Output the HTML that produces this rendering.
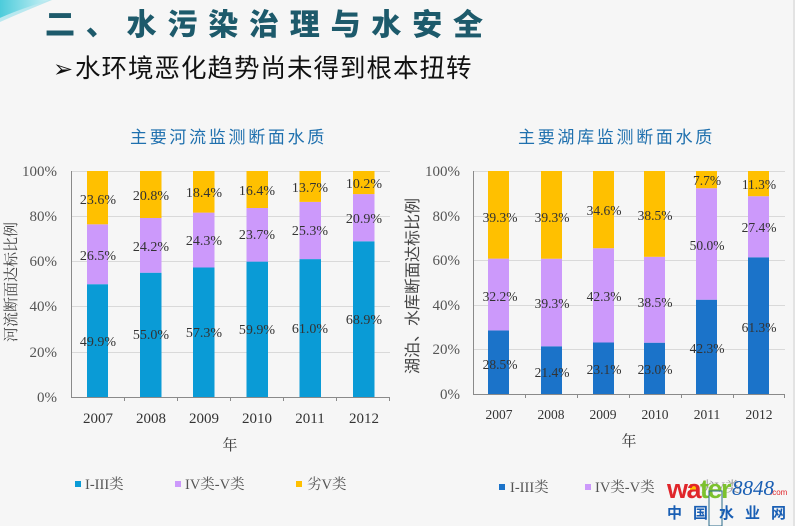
<!DOCTYPE html>
<html>
<head>
<meta charset="utf-8">
<style>
html,body{margin:0;padding:0;background:#f6f6f6;}
body{width:795px;height:526px;position:relative;overflow:hidden;}
svg{position:absolute;left:0;top:0;}
.serif{font-family:"Liberation Serif","Noto Serif CJK SC",serif;}
.sans{font-family:"Liberation Sans","Noto Sans CJK SC",sans-serif;}
</style>
</head>
<body>
<svg width="795" height="526" viewBox="0 0 795 526" xmlns="http://www.w3.org/2000/svg">
  <defs>
    <linearGradient id="sw" x1="0" y1="0" x2="1" y2="0">
      <stop offset="0" stop-color="#2ec4d6"/>
      <stop offset="1" stop-color="#bfeef4"/>
    </linearGradient>
  </defs>
  <rect x="0" y="0" width="795" height="526" fill="#f6f6f6"/>
  <path d="M0,0 L48,0 C35,5 18,10 0,18 Z" fill="url(#sw)" opacity="0.85"/>
  <path d="M0,18 C15,11 30,6 48,0 L52,0 C35,7 18,14 0,22 Z" fill="#9fe3ec" opacity="0.7"/>
  <line x1="794" y1="0" x2="794" y2="526" stroke="#d0d0d0" stroke-width="1"/>

  <!-- Titles -->
  <text x="45" y="35" class="sans" font-size="30" font-weight="900" fill="#1d5a6b" letter-spacing="10.8">二、水污染治理与水安全</text>
  <text x="53" y="77" font-family="DejaVu Sans,sans-serif" font-size="24" font-weight="bold" fill="#111">➢</text>
  <text x="75" y="77" class="sans" font-size="25.5" fill="#111" letter-spacing="1">水环境恶化趋势尚未得到根本扭转</text>

  <text x="130" y="143" class="sans" font-size="17" fill="#1f70ae" letter-spacing="2.7">主要河流监测断面水质</text>
  <text x="518" y="143" class="sans" font-size="17" fill="#1f70ae" letter-spacing="2.7">主要湖库监测断面水质</text>

  <!-- ============ LEFT CHART ============ -->
  <g stroke="#d9d9d9" stroke-width="1">
    <line x1="71" y1="171.5" x2="390" y2="171.5"/>
    <line x1="71" y1="216.5" x2="390" y2="216.5"/>
    <line x1="71" y1="261.5" x2="390" y2="261.5"/>
    <line x1="71" y1="306.5" x2="390" y2="306.5"/>
    <line x1="71" y1="352.5" x2="390" y2="352.5"/>
  </g>
  <g class="serif" font-size="15" fill="#555" text-anchor="end">
    <text x="57" y="176">100%</text>
    <text x="57" y="221">80%</text>
    <text x="57" y="266">60%</text>
    <text x="57" y="311">40%</text>
    <text x="57" y="357">20%</text>
    <text x="57" y="402">0%</text>
  </g>
  <g>
    <rect x="87" y="284.2" width="21" height="112.8" fill="#0a9bd6"/>
    <rect x="87" y="224.3" width="21" height="59.9" fill="#cc99fb"/>
    <rect x="87" y="171" width="21" height="53.3" fill="#ffc000"/>

    <rect x="140" y="272.7" width="21.5" height="124.3" fill="#0a9bd6"/>
    <rect x="140" y="218" width="21.5" height="54.7" fill="#cc99fb"/>
    <rect x="140" y="171" width="21.5" height="47" fill="#ffc000"/>

    <rect x="193" y="267.5" width="21.5" height="129.5" fill="#0a9bd6"/>
    <rect x="193" y="212.6" width="21.5" height="54.9" fill="#cc99fb"/>
    <rect x="193" y="171" width="21.5" height="41.6" fill="#ffc000"/>

    <rect x="246.5" y="261.6" width="21.5" height="135.4" fill="#0a9bd6"/>
    <rect x="246.5" y="208" width="21.5" height="53.6" fill="#cc99fb"/>
    <rect x="246.5" y="171" width="21.5" height="37" fill="#ffc000"/>

    <rect x="299.5" y="259.1" width="21.5" height="137.9" fill="#0a9bd6"/>
    <rect x="299.5" y="201.9" width="21.5" height="57.2" fill="#cc99fb"/>
    <rect x="299.5" y="171" width="21.5" height="30.9" fill="#ffc000"/>

    <rect x="353" y="241.3" width="21.5" height="155.7" fill="#0a9bd6"/>
    <rect x="353" y="194.1" width="21.5" height="47.2" fill="#cc99fb"/>
    <rect x="353" y="171" width="21.5" height="23.1" fill="#ffc000"/>
  </g>
  <line x1="71.5" y1="171" x2="71.5" y2="397" stroke="#8a8a8a" stroke-width="1"/>
  <line x1="71" y1="397.5" x2="390" y2="397.5" stroke="#8a8a8a" stroke-width="1"/>
  <g stroke="#8a8a8a" stroke-width="1">
    <line x1="124.5" y1="397" x2="124.5" y2="401"/>
    <line x1="177.5" y1="397" x2="177.5" y2="401"/>
    <line x1="230.5" y1="397" x2="230.5" y2="401"/>
    <line x1="283.5" y1="397" x2="283.5" y2="401"/>
    <line x1="336.5" y1="397" x2="336.5" y2="401"/>
    <line x1="389.5" y1="397" x2="389.5" y2="401"/>
  </g>
  <g class="serif" font-size="14" fill="#333" text-anchor="middle">
    <text x="98" y="204">23.6%</text>
    <text x="98" y="260">26.5%</text>
    <text x="98" y="346">49.9%</text>
    <text x="151" y="200">20.8%</text>
    <text x="151" y="251">24.2%</text>
    <text x="151" y="339">55.0%</text>
    <text x="204" y="197">18.4%</text>
    <text x="204" y="245">24.3%</text>
    <text x="204" y="337">57.3%</text>
    <text x="257" y="195">16.4%</text>
    <text x="257" y="239">23.7%</text>
    <text x="257" y="334">59.9%</text>
    <text x="310" y="192">13.7%</text>
    <text x="310" y="235">25.3%</text>
    <text x="310" y="333">61.0%</text>
    <text x="364" y="188">10.2%</text>
    <text x="364" y="223">20.9%</text>
    <text x="364" y="324">68.9%</text>
  </g>
  <g class="serif" font-size="15" fill="#333" text-anchor="middle">
    <text x="98" y="423">2007</text>
    <text x="151" y="423">2008</text>
    <text x="204" y="423">2009</text>
    <text x="257" y="423">2010</text>
    <text x="310" y="423">2011</text>
    <text x="364" y="423">2012</text>
  </g>
  <text x="230" y="450" class="serif" font-size="15" fill="#333" text-anchor="middle">年</text>
  <text transform="translate(16,282) rotate(-90)" class="serif" font-size="15" fill="#444" text-anchor="middle">河流断面达标比例</text>

  <rect x="75" y="481" width="6" height="6" fill="#0a9bd6"/>
  <text x="85" y="489" class="serif" font-size="14.5" fill="#555">I-III类</text>
  <rect x="175" y="481" width="6" height="6" fill="#cc99fb"/>
  <text x="185" y="489" class="serif" font-size="14.5" fill="#555">IV类-V类</text>
  <rect x="296" y="481" width="6" height="6" fill="#ffc000"/>
  <text x="307" y="489" class="serif" font-size="14.5" fill="#555">劣V类</text>

  <!-- ============ RIGHT CHART ============ -->
  <g stroke="#d9d9d9" stroke-width="1">
    <line x1="473" y1="171.5" x2="785" y2="171.5"/>
    <line x1="473" y1="216.5" x2="785" y2="216.5"/>
    <line x1="473" y1="260.5" x2="785" y2="260.5"/>
    <line x1="473" y1="305.5" x2="785" y2="305.5"/>
    <line x1="473" y1="349.5" x2="785" y2="349.5"/>
  </g>
  <g class="serif" font-size="15" fill="#555" text-anchor="end">
    <text x="460" y="176">100%</text>
    <text x="460" y="221">80%</text>
    <text x="460" y="265">60%</text>
    <text x="460" y="310">40%</text>
    <text x="460" y="354">20%</text>
    <text x="460" y="399">0%</text>
  </g>
  <g>
    <rect x="488" y="330.4" width="21" height="63.6" fill="#1b73c9"/>
    <rect x="488" y="258.6" width="21" height="71.8" fill="#cc99fb"/>
    <rect x="488" y="171" width="21" height="87.6" fill="#ffc000"/>

    <rect x="541" y="346.3" width="21" height="47.7" fill="#1b73c9"/>
    <rect x="541" y="258.7" width="21" height="87.6" fill="#cc99fb"/>
    <rect x="541" y="171" width="21" height="87.7" fill="#ffc000"/>

    <rect x="593" y="342.5" width="21" height="51.5" fill="#1b73c9"/>
    <rect x="593" y="248.2" width="21" height="94.3" fill="#cc99fb"/>
    <rect x="593" y="171" width="21" height="77.2" fill="#ffc000"/>

    <rect x="644" y="342.7" width="21" height="51.3" fill="#1b73c9"/>
    <rect x="644" y="256.8" width="21" height="85.9" fill="#cc99fb"/>
    <rect x="644" y="171" width="21" height="85.8" fill="#ffc000"/>

    <rect x="696" y="299.7" width="21" height="94.3" fill="#1b73c9"/>
    <rect x="696" y="188.2" width="21" height="111.5" fill="#cc99fb"/>
    <rect x="696" y="171" width="21" height="17.2" fill="#ffc000"/>

    <rect x="748" y="257.3" width="21" height="136.7" fill="#1b73c9"/>
    <rect x="748" y="196.2" width="21" height="61.1" fill="#cc99fb"/>
    <rect x="748" y="171" width="21" height="25.2" fill="#ffc000"/>
  </g>
  <line x1="473.5" y1="171" x2="473.5" y2="394" stroke="#8a8a8a" stroke-width="1"/>
  <line x1="473" y1="394.5" x2="785" y2="394.5" stroke="#8a8a8a" stroke-width="1"/>
  <g stroke="#8a8a8a" stroke-width="1">
    <line x1="525.5" y1="394" x2="525.5" y2="398"/>
    <line x1="577.5" y1="394" x2="577.5" y2="398"/>
    <line x1="629.5" y1="394" x2="629.5" y2="398"/>
    <line x1="681.5" y1="394" x2="681.5" y2="398"/>
    <line x1="733.5" y1="394" x2="733.5" y2="398"/>
    <line x1="784.5" y1="394" x2="784.5" y2="398"/>
  </g>
  <g class="serif" font-size="13.5" fill="#333" text-anchor="middle">
    <text x="500" y="222">39.3%</text>
    <text x="500" y="301">32.2%</text>
    <text x="500" y="369">28.5%</text>
    <text x="552" y="222">39.3%</text>
    <text x="552" y="308">39.3%</text>
    <text x="552" y="377">21.4%</text>
    <text x="604" y="215">34.6%</text>
    <text x="604" y="301">42.3%</text>
    <text x="604" y="374">23.1%</text>
    <text x="655" y="220">38.5%</text>
    <text x="655" y="307">38.5%</text>
    <text x="655" y="374">23.0%</text>
    <text x="707" y="185">7.7%</text>
    <text x="707" y="250">50.0%</text>
    <text x="707" y="353">42.3%</text>
    <text x="759" y="189">11.3%</text>
    <text x="759" y="232">27.4%</text>
    <text x="759" y="332">61.3%</text>
  </g>
  <g class="serif" font-size="13.5" fill="#333" text-anchor="middle">
    <text x="499" y="419">2007</text>
    <text x="551" y="419">2008</text>
    <text x="603" y="419">2009</text>
    <text x="655" y="419">2010</text>
    <text x="707" y="419">2011</text>
    <text x="759" y="419">2012</text>
  </g>
  <text x="629" y="446" class="serif" font-size="15" fill="#333" text-anchor="middle">年</text>
  <text transform="translate(418,286) rotate(-90)" class="sans" font-size="16" fill="#444" text-anchor="middle">湖泊、水库断面达标比例</text>

  <rect x="499" y="484" width="6" height="6" fill="#1b73c9"/>
  <text x="510" y="492" class="serif" font-size="14.5" fill="#555">I-III类</text>
  <rect x="585" y="484" width="6" height="6" fill="#cc99fb"/>
  <text x="595" y="492" class="serif" font-size="14.5" fill="#555">IV类-V类</text>
  <rect x="690" y="484" width="6" height="6" fill="#ffc000"/>
  <text x="700" y="492" class="serif" font-size="14.5" fill="#999">劣V类</text>

  <!-- watermark -->
  <text x="667" y="498" font-family="Liberation Sans,sans-serif" font-size="27" font-weight="bold" letter-spacing="-1.5"><tspan fill="#e0262b">wa</tspan><tspan fill="#7cc12e">ter</tspan></text>
  <text x="732" y="495" font-family="Liberation Serif,serif" font-style="italic" font-size="21" fill="#1a5fb4">8848</text>
  <text x="770" y="495" font-family="Liberation Sans,sans-serif" font-size="8" fill="#e0262b">.com</text>
  <rect x="709" y="491" width="13" height="35" fill="none" stroke="#2b6b8a" stroke-width="1"/>
  <text x="667" y="518" class="sans" font-size="15" font-weight="bold" fill="#1a5fb4" letter-spacing="11">中国水业网</text>
</svg>
</body>
</html>
